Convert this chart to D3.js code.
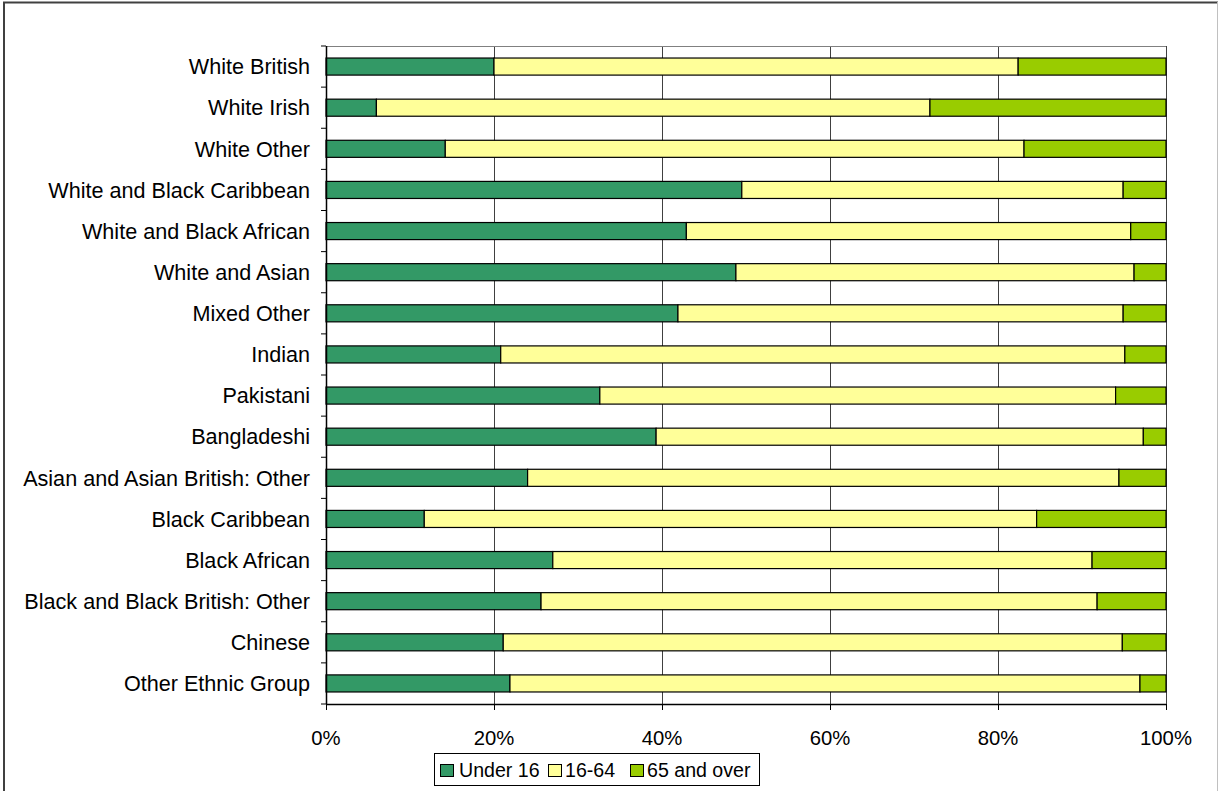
<!DOCTYPE html>
<html><head><meta charset="utf-8">
<script src="https://cdn.jsdelivr.net/npm/d3@7"></script>
<style>body{margin:0;background:#fff}svg{display:block}</style>
</head><body>
<script>
const categories = ["White British","White Irish","White Other","White and Black Caribbean","White and Black African","White and Asian","Mixed Other","Indian","Pakistani","Bangladeshi","Asian and Asian British: Other","Black Caribbean","Black African","Black and Black British: Other","Chinese","Other Ethnic Group"];
const under16 = [20.0,6.0,14.2,49.5,42.9,48.8,41.9,20.8,32.6,39.3,24.0,11.7,27.0,25.6,21.1,21.9];
const age16to64 = [62.4,65.9,68.9,45.4,52.9,47.4,53.0,74.3,61.4,58.0,70.4,72.9,64.2,66.2,73.7,75.0];
const over65 = [17.6,28.1,16.9,5.1,4.2,3.8,5.1,4.9,6.0,2.7,5.6,15.4,8.8,8.2,5.2,3.1];
const seriesNames = ["Under 16","16-64","65 and over"];
const seriesColors = ["#339966","#FFFF99","#99CC00"];
const xTicks = [0,20,40,60,80,100];

(function(){
const W=1219,H=791;
const FF="Liberation Sans, Arial, sans-serif";
const svg=d3.select("body").append("svg").attr("width",W).attr("height",H);
// outer frame
svg.append("line").attr("x1",3).attr("x2",1218).attr("y1",2.5).attr("y2",2.5).attr("stroke","#404040").attr("stroke-width",2);
svg.append("line").attr("x1",4).attr("x2",4).attr("y1",2).attr("y2",H).attr("stroke","#404040").attr("stroke-width",2);
svg.append("line").attr("x1",1217.5).attr("x2",1217.5).attr("y1",2).attr("y2",H).attr("stroke","#c0c0c0").attr("stroke-width",1);

const pl=326,pr=1166,pt=46,pb=704;
const x=d3.scaleLinear().domain([0,100]).range([pl,pr]);
const y=d3.scaleBand().domain(categories).range([pt,pb]).paddingInner(0.585).paddingOuter(0.2925);

const data=categories.map((c,i)=>({cat:c,"Under 16":under16[i],"16-64":age16to64[i],"65 and over":over65[i]}));
const stack=d3.stack().keys(seriesNames)(data);

// grid
svg.append("g").selectAll("line").data(xTicks.slice(1)).join("line")
 .attr("x1",d=>Math.round(x(d))+0.5).attr("x2",d=>Math.round(x(d))+0.5)
 .attr("y1",pt).attr("y2",pb).attr("stroke","#404040").attr("stroke-width",1);
svg.append("line").attr("x1",pl).attr("x2",pr).attr("y1",pt+0.5).attr("y2",pt+0.5).attr("stroke","#808080");

// bars
svg.append("g").selectAll("g").data(stack).join("g")
 .attr("fill",(d,i)=>seriesColors[i])
 .selectAll("rect").data(d=>d).join("rect")
 .attr("x",d=>x(d[0])).attr("width",d=>x(d[1])-x(d[0]))
 .attr("y",d=>y(d.data.cat)).attr("height",y.bandwidth())
 .attr("stroke","#000").attr("stroke-width",1.2);

// y axis
const yAxisBand=d3.scalePoint().domain(d3.range(categories.length+1)).range([pt,pb]);
svg.append("line").attr("x1",pl+0.5).attr("x2",pl+0.5).attr("y1",pt).attr("y2",pb).attr("stroke","#000").attr("stroke-width",1.5);
svg.append("g").selectAll("line").data(d3.range(categories.length+1)).join("line")
 .attr("x1",pl-5).attr("x2",pl).attr("y1",d=>yAxisBand(d)).attr("y2",d=>yAxisBand(d)).attr("stroke","#000");
svg.append("g").selectAll("text").data(categories).join("text")
 .attr("x",310).attr("y",d=>y(d)+y.bandwidth()/2).attr("dy","0.36em")
 .attr("text-anchor","end").attr("font-family",FF).attr("font-size",21.6).attr("fill","#000").text(d=>d);

// x axis
svg.append("line").attr("x1",pl).attr("x2",pr).attr("y1",pb+0.5).attr("y2",pb+0.5).attr("stroke","#000").attr("stroke-width",1.5);
svg.append("g").selectAll("line").data(xTicks).join("line")
 .attr("x1",d=>Math.round(x(d))+0.5).attr("x2",d=>Math.round(x(d))+0.5).attr("y1",pb).attr("y2",pb+6).attr("stroke","#000");
svg.append("g").selectAll("text").data(xTicks).join("text")
 .attr("x",d=>x(d)).attr("y",745).attr("text-anchor","middle")
 .attr("font-family",FF).attr("font-size",20.3).attr("fill","#000").text(d=>d+"%");

// legend
const lg=svg.append("g");
lg.append("rect").attr("x",434.5).attr("y",753.5).attr("width",325).attr("height",32).attr("fill","#fff").attr("stroke","#000");
const legX=[440.5,548.5,630.5];
const legTX=[459,565,647];
seriesNames.forEach((n,i)=>{
  lg.append("rect").attr("x",legX[i]).attr("y",764.5).attr("width",13).attr("height",12).attr("fill",seriesColors[i]).attr("stroke","#000");
  lg.append("text").attr("x",legTX[i]).attr("y",777).attr("font-family",FF).attr("font-size",19.6).attr("fill","#000").text(n);
});
})();
</script>
</body></html>
